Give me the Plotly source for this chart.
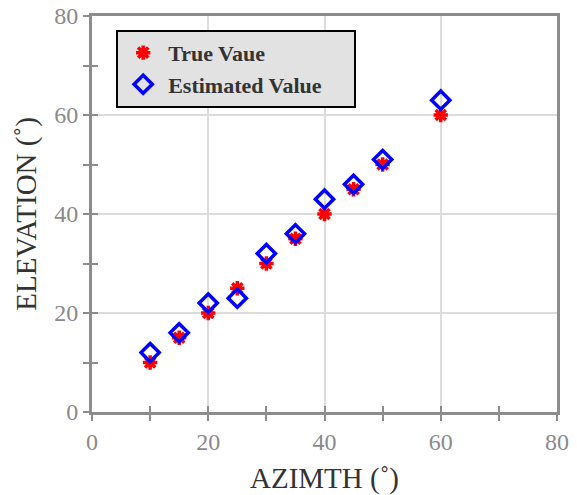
import plotly.graph_objects as go

azimuth = [10, 15, 20, 25, 30, 35, 40, 45, 50, 60]
true_elev = [10, 15, 20, 25, 30, 35, 40, 45, 50, 60]
est_elev = [12, 16, 22, 23, 32, 36, 43, 46, 51, 63]

x_ticks = [0, 20, 40, 60, 80]
y_ticks = [0, 20, 40, 60, 80]

SERIF = "Liberation Serif, Times New Roman, serif"
AX = "#8c8c8c"
PAD = "\u00a0" * 5

fig = go.Figure()
fig.add_trace(go.Scatter(
    x=azimuth, y=true_elev, mode="markers", name="True Vaue" + PAD,
    marker=dict(symbol="asterisk", size=12, color="red",
                line=dict(color="red", width=3.5)),
))
fig.add_trace(go.Scatter(
    x=azimuth, y=est_elev, mode="markers", name="Estimated Value" + PAD,
    marker=dict(symbol="diamond-open", size=14, color="blue",
                line=dict(color="blue", width=3.5)),
))
fig.add_trace(go.Scatter(x=[None], y=[None], xaxis="x2", yaxis="y2",
                         showlegend=False, hoverinfo="skip"))

axis_common = dict(
    range=[0, 80], showline=True, linecolor=AX, linewidth=3, mirror=True,
    showgrid=True, gridcolor="#dcdcdc", gridwidth=1.5, zeroline=False,
    ticks="outside", ticklen=6, tickwidth=2, tickcolor=AX,
    minor=dict(ticks="outside", ticklen=6, tickwidth=2, tickcolor=AX,
               dtick=10, showgrid=False),
    tickfont=dict(family=SERIF, size=24, color="#8a8a8a"),
    dtick=20, fixedrange=True, automargin=False,
)

fig.update_layout(
    width=577, height=495,
    margin=dict(l=92, r=20, t=16, b=83),
    paper_bgcolor="white", plot_bgcolor="white",
    xaxis=dict(axis_common, tickvals=x_ticks,
               title=dict(text="AZIMTH (˚)", font=dict(family=SERIF, size=29, color="#333333"),
                          standoff=14)),
    yaxis=dict(axis_common, tickvals=y_ticks,
               title=dict(text="ELEVATION (˚)", font=dict(family=SERIF, size=29, color="#333333"),
                          standoff=10)),
    xaxis2=dict(range=[0, 80], overlaying="x", side="bottom", showticklabels=False,
                showgrid=False, zeroline=False, showline=False,
                ticks="inside", ticklen=6, tickwidth=2, tickcolor=AX, dtick=10,
                fixedrange=True),
    yaxis2=dict(range=[0, 80], overlaying="y", side="left", showticklabels=False,
                showgrid=False, zeroline=False, showline=False,
                ticks="inside", ticklen=6, tickwidth=2, tickcolor=AX, dtick=10,
                fixedrange=True),
    legend=dict(x=0.052, y=0.965, xanchor="left", yanchor="top",
                bgcolor="#e2e2e2", bordercolor="black", borderwidth=2,
                font=dict(family=SERIF, size=22, color="#333333", weight="bold"),
                itemwidth=40, tracegroupgap=0),
    showlegend=True,
)

fig.write_html("out.html")
